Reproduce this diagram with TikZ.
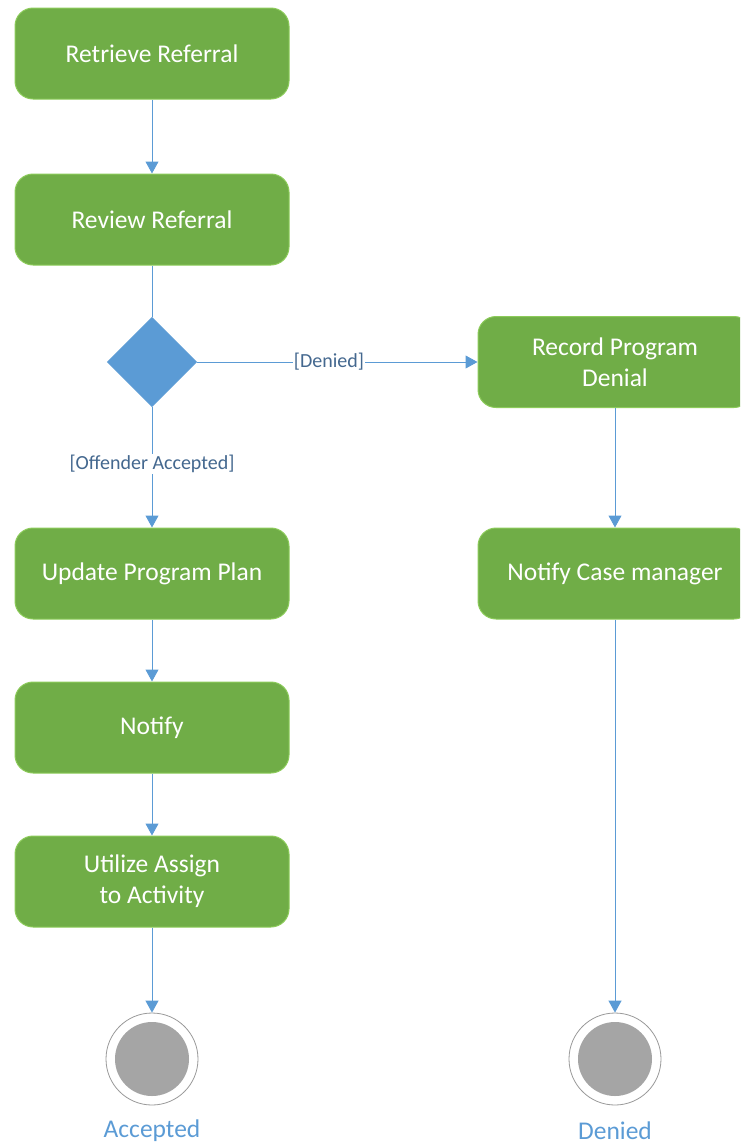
\documentclass[tikz,border=0pt]{standalone}
\usepackage{fontspec}
\setmainfont{Carlito}
\usetikzlibrary{arrows.meta,shapes.geometric}
\definecolor{actgreen}{HTML}{70AD47}
\definecolor{actborder}{HTML}{8CCB5A}
\definecolor{flowblue}{HTML}{5B9BD5}
\definecolor{labelblue}{HTML}{44688F}
\definecolor{endgray}{HTML}{A5A5A5}
\begin{document}
\begin{tikzpicture}[x=1pt,y=-1pt,
  action/.style={draw=actborder,line width=1pt,fill=actgreen,rounded corners=18pt,
    minimum width=274pt,minimum height=91pt,text=white,font=\fontsize{25.5}{31}\selectfont,
    align=center,inner sep=0pt},
  decision/.style={diamond,fill=flowblue,draw=flowblue!80!white,minimum width=90pt,minimum height=90pt,inner sep=0pt},
  flow/.style={draw=flowblue,line width=1pt,-{Triangle[length=12pt,width=13pt]}},
  plain/.style={draw=flowblue,line width=1pt},
  guard/.style={fill=white,text=labelblue,font=\fontsize{20}{24}\selectfont,inner sep=1pt},
  finalout/.style={circle,draw=gray!80,line width=0.8pt,fill=white,minimum size=92pt,inner sep=0pt},
  finalin/.style={circle,fill=endgray,minimum size=74pt,inner sep=0pt},
  endlabel/.style={text=flowblue,font=\fontsize{25.5}{31}\selectfont}]
\useasboundingbox (0,0) rectangle (740,1144);
\begin{scope}
\clip (0,0) rectangle (740,1144);
\node[action] (retrieve) at (152,53.5) {Retrieve Referral};
\node[action] (review) at (152,219.5) {Review Referral};
\node[decision] (dec) at (152,362) {};
\node[action] (record) at (615,362) {Record Program\\Denial};
\node[action] (update) at (152,573.5) {Update Program Plan};
\node[action] (notifycm) at (615,573.5) {Notify Case manager};
\node[action] (notify) at (152,727.5) {Notify};
\node[action] (utilize) at (152,881.5) {Utilize Assign\\to Activity};
\node[finalout] (accout) at (152,1059) {};
\node[finalin] (accin) at (152,1059) {};
\node[finalout] (denout) at (615,1059) {};
\node[finalin] (denin) at (615,1059) {};
\node[endlabel] (acclbl) at (152,1131) {Accepted};
\node[endlabel] (denlbl) at (615,1131) {Denied};

\draw[flow] (retrieve) -- (review);
\draw[plain] (review) -- (dec);
\draw[flow] (dec) -- node[guard,pos=0.47] {[Denied]} (record);
\draw[flow] (dec) -- node[guard,pos=0.47] {[Offender Accepted]} (update);
\draw[flow] (record) -- (notifycm);
\draw[flow] (update) -- (notify);
\draw[flow] (notify) -- (utilize);
\draw[flow] (utilize) -- (accout);
\draw[flow] (notifycm) -- (denout);
\end{scope}
\end{tikzpicture}
\end{document}
